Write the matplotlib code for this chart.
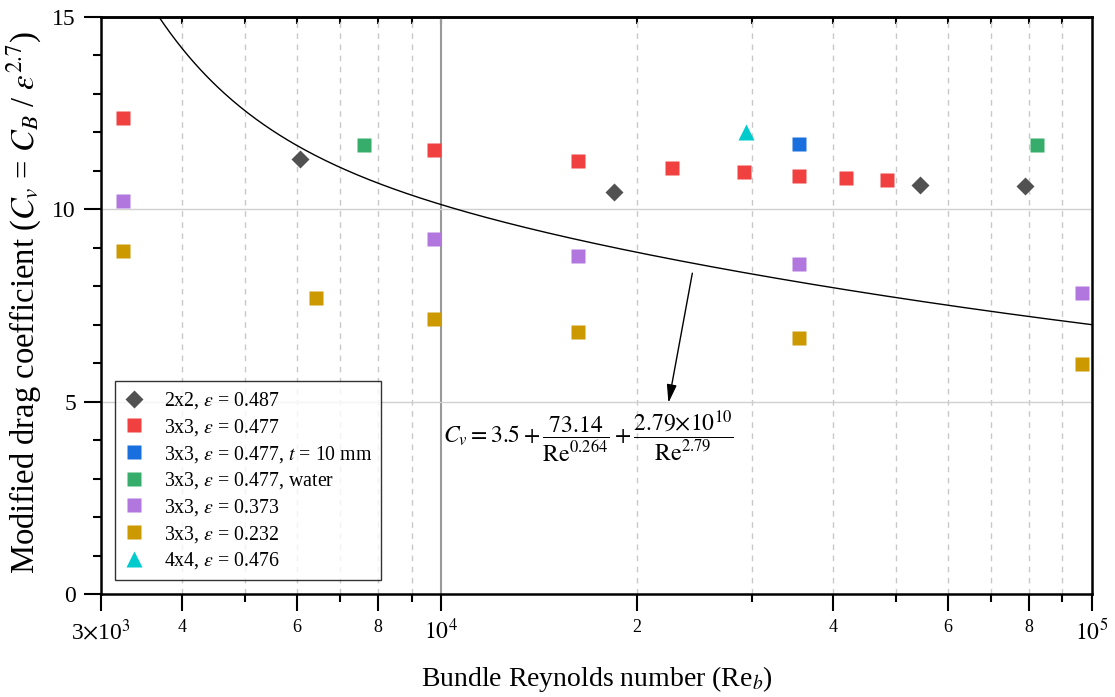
import numpy as np
import matplotlib.pyplot as plt
from matplotlib.ticker import FixedLocator, FixedFormatter, MultipleLocator, NullFormatter, NullLocator

plt.rcParams['font.family'] = ['Liberation Serif', 'DejaVu Serif']
plt.rcParams['mathtext.fontset'] = 'stix'

# --- data ---
re_2x2 = [6060, 18450, 54400, 79000]
cv_2x2 = [11.30, 10.46, 10.63, 10.61]

re_3x3 = [3243, 9734, 16220, 22630, 29150, 35500, 41920, 48330]
cv_3x3 = [12.37, 11.54, 11.26, 11.08, 10.96, 10.87, 10.81, 10.77]

re_3x3_t10 = [35500]
cv_3x3_t10 = [11.70]

re_3x3_water = [7600, 82340]
cv_3x3_water = [11.68, 11.68]

re_3x3_373 = [3243, 9734, 16220, 35500, 96500]
cv_3x3_373 = [10.22, 9.23, 8.79, 8.58, 7.82]

re_3x3_232 = [3243, 6430, 9734, 16220, 35500, 96500]
cv_3x3_232 = [8.92, 7.70, 7.15, 6.82, 6.66, 5.97]

re_4x4 = [29360]
cv_4x4 = [12.0]

# correlation shown on the chart
fit_a, fit_b, fit_p, fit_c, fit_q = 3.5, 73.14, 0.264, 2.79e10, 2.79

major_x = [3e3, 4e3, 6e3, 8e3, 1e4, 2e4, 4e4, 6e4, 8e4, 1e5]
major_x_labels = [r'3$\times$10$^3$', '4', '6', '8', r'$10^4$', '2', '4', '6', '8', r'$10^5$']
minor_x = [5e3, 7e3, 9e3, 3e4, 5e4, 7e4, 9e4]

series = [
    (re_2x2, cv_2x2, 'D', 9, '#515151', r'2x2, $\varepsilon$ = 0.487'),
    (re_3x3, cv_3x3, 's', 10, '#F14040', r'3x3, $\varepsilon$ = 0.477'),
    (re_3x3_t10, cv_3x3_t10, 's', 10, '#1A6FDF', r'3x3, $\varepsilon$ = 0.477, $t$ = 10 mm'),
    (re_3x3_water, cv_3x3_water, 's', 10, '#37AD6B', r'3x3, $\varepsilon$ = 0.477, water'),
    (re_3x3_373, cv_3x3_373, 's', 10, '#B177DE', r'3x3, $\varepsilon$ = 0.373'),
    (re_3x3_232, cv_3x3_232, 's', 10, '#CC9900', r'3x3, $\varepsilon$ = 0.232'),
    (re_4x4, cv_4x4, '^', 12, '#00CBCC', r'4x4, $\varepsilon$ = 0.476'),
]

fig = plt.figure(figsize=(11.15, 6.97), dpi=100)
ax = fig.add_axes([0.0906, 0.1478, 0.8888, 0.8278])
ax.set_xscale('log')
ax.set_xlim(3e3, 1e5)
ax.set_ylim(0, 15)

# grid
for xv in major_x[1:-1] + minor_x:
    if xv == 1e4:
        ax.axvline(xv, color='#999999', lw=1.5, zorder=1)
    else:
        ax.axvline(xv, color='#c8c8c8', lw=1.0, ls=(0, (4, 4)), zorder=1)
for yv in [5, 10]:
    ax.axhline(yv, color='#d0d0d0', lw=1.0, zorder=1)

# fit curve
re_fit = np.logspace(np.log10(3e3), 5, 500)
cv_fit = fit_a + fit_b / re_fit**fit_p + fit_c / re_fit**fit_q
ax.plot(re_fit, cv_fit, color='black', lw=1.0, zorder=2)

for xs, ys, m, ms, c, lab in series:
    ax.plot(xs, ys, ls='none', marker=m, ms=ms, color=c, mec='none', label=lab, zorder=3)

# axes styling
ax.xaxis.set_major_locator(FixedLocator(major_x))
ax.xaxis.set_major_formatter(FixedFormatter(major_x_labels))
ax.xaxis.set_minor_locator(FixedLocator(minor_x))
ax.xaxis.set_minor_formatter(NullFormatter())
for lab in ax.get_xticklabels():
    txt = lab.get_text()
    lab.set_fontsize(17 if ('10' in txt) else 13)
ax.yaxis.set_major_locator(MultipleLocator(5))
ax.yaxis.set_minor_locator(MultipleLocator(1))
ax.tick_params(axis='both', which='major', direction='out', length=12, width=1.5, pad=6)
ax.tick_params(axis='both', which='minor', direction='out', length=6, width=1.5)
ax.tick_params(axis='y', labelsize=17)
for sp in ax.spines.values():
    sp.set_linewidth(1.8)

top = ax.secondary_xaxis('top')
top.xaxis.set_major_locator(FixedLocator(major_x[1:-1] + minor_x))
top.xaxis.set_major_formatter(NullFormatter())
top.xaxis.set_minor_locator(NullLocator())
top.tick_params(direction='in', length=5, width=1.5)
top.spines['top'].set_linewidth(1.8)

ax.set_xlabel(r'Bundle Reynolds number (Re$_b$)', fontsize=20, labelpad=14)
ax.set_ylabel(r'Modified drag coefficient ($C_v$ = $C_B$ / $\varepsilon^{2.7}$)', fontsize=23.5, labelpad=6)
ax.yaxis.set_label_coords(-0.058, 0.505)

leg = ax.legend(loc='lower left', bbox_to_anchor=(0.014, 0.024), borderaxespad=0,
                fontsize=14.3, frameon=True, fancybox=False, edgecolor='black',
                handlelength=1.0, handletextpad=1.0, labelspacing=0.29,
                borderpad=0.45, numpoints=1)
leg.get_frame().set_linewidth(1.0)

# annotation
ax.annotate('', xy=(22340, 4.97), xytext=(24310, 8.34),
            arrowprops=dict(arrowstyle='-|>,head_width=0.15,head_length=0.55',
                            mutation_scale=20, color='black', lw=1.0, shrinkA=0, shrinkB=0))
ax.text(16800, 4.08,
        r'$C_v = 3.5 + \dfrac{73.14}{\mathrm{Re}^{0.264}} + \dfrac{2.79{\times}10^{10}}{\mathrm{Re}^{2.79}}$',
        ha='center', va='center', fontsize=17)

fig.savefig('out.png', dpi=100)
